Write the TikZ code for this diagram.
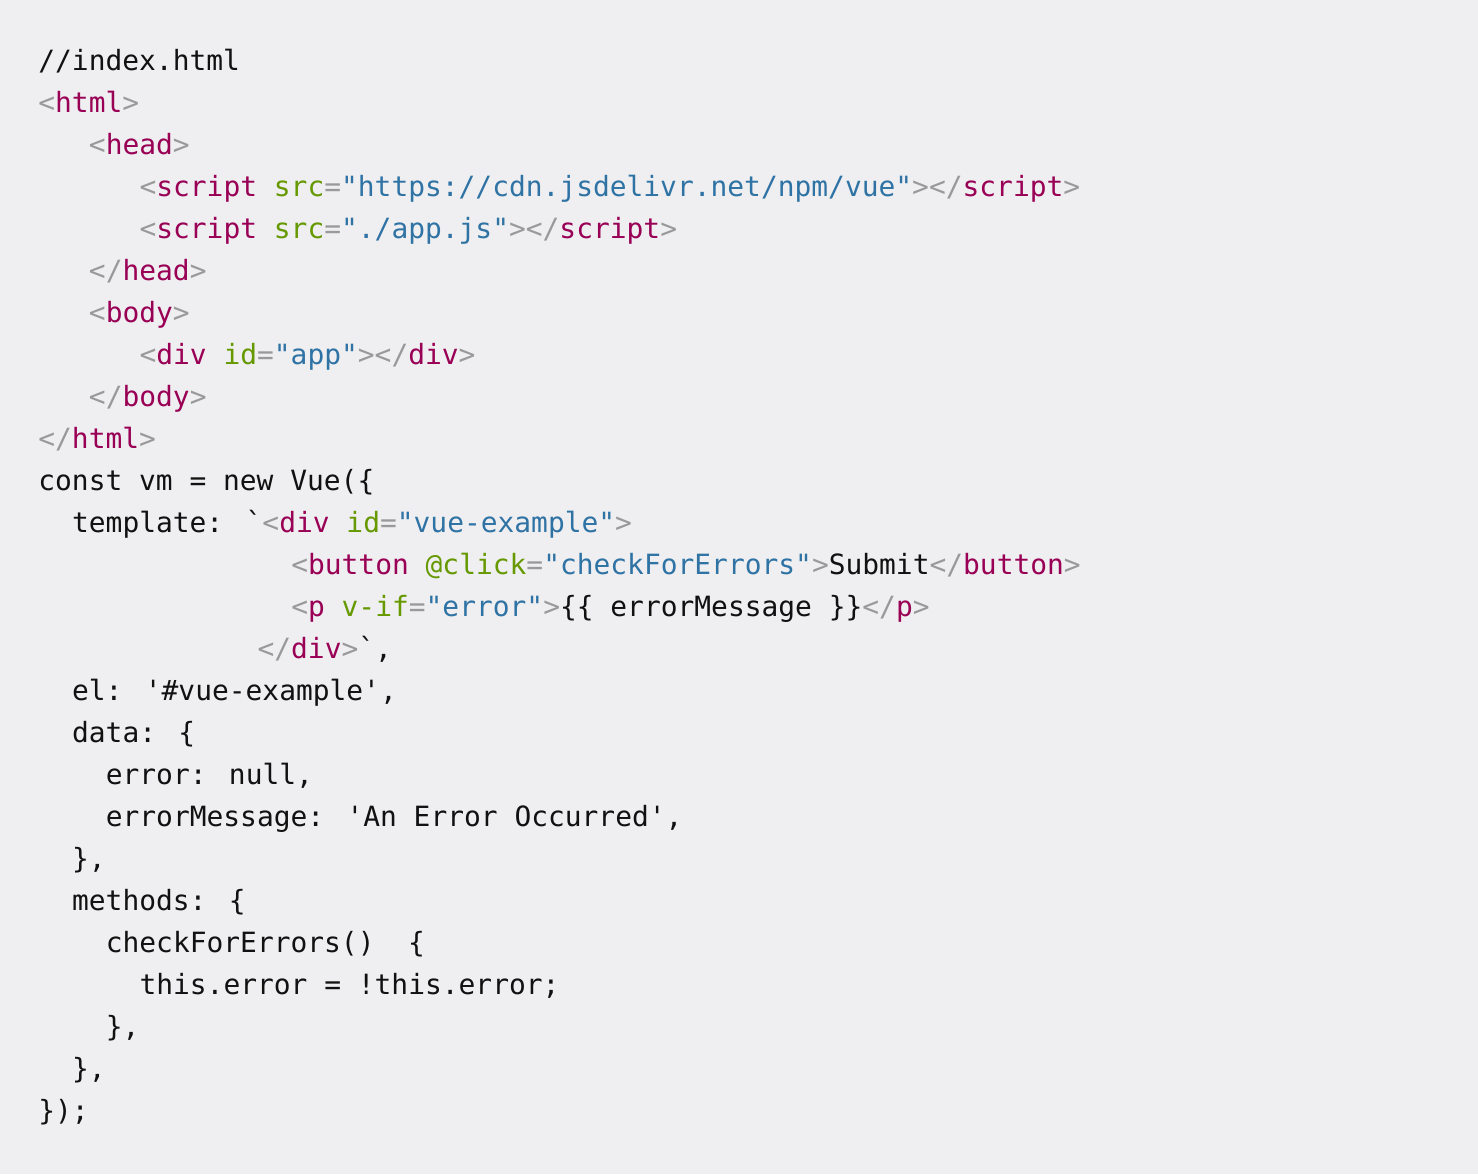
\documentclass[tikz,border=0pt]{standalone}
\usepackage{fontspec}
\newfontfamily\cf{DejaVu Sans Mono}
\definecolor{bg}{HTML}{EFEFF1}
\definecolor{tagc}{HTML}{990055}
\definecolor{pc}{HTML}{999999}
\definecolor{atc}{HTML}{669900}
\definecolor{stc}{HTML}{2F73A5}
\definecolor{txc}{HTML}{111111}
\newcommand\tg[1]{\textcolor{tagc}{#1}}
\newcommand\pg[1]{\textcolor{pc}{#1}}
\newcommand\at[1]{\textcolor{atc}{#1}}
\newcommand\st[1]{\textcolor{stc}{#1}}
\newcommand\bq{\symbol{96}}
\newcommand\sq{\symbol{39}}
\tikzset{codeline/.style={anchor=base west,inner sep=0pt,font=\cf\fontsize{13.95}{16}\selectfont,text=txc}}
\newcommand\codeln[3]{\node[codeline] (l#1) at ({19pt+#2*8.43pt},{-(35pt+21pt*#1)}) {#3};}
\begin{document}
\begin{tikzpicture}
\fill[bg] (0,0) rectangle (739pt,-587pt);
\useasboundingbox (0,0) rectangle (739pt,-587pt);
\codeln{0}{0}{//index.html}
\codeln{1}{0}{\pg{<}\tg{html}\pg{>}}
\codeln{2}{3}{\pg{<}\tg{head}\pg{>}}
\codeln{3}{6}{\pg{<}\tg{script} \at{src}\pg{=}\st{"https://cdn.jsdelivr.net/npm/vue"}\pg{></}\tg{script}\pg{>}}
\codeln{4}{6}{\pg{<}\tg{script} \at{src}\pg{=}\st{"./app.js"}\pg{></}\tg{script}\pg{>}}
\codeln{5}{3}{\pg{</}\tg{head}\pg{>}}
\codeln{6}{3}{\pg{<}\tg{body}\pg{>}}
\codeln{7}{6}{\pg{<}\tg{div} \at{id}\pg{=}\st{"app"}\pg{></}\tg{div}\pg{>}}
\codeln{8}{3}{\pg{</}\tg{body}\pg{>}}
\codeln{9}{0}{\pg{</}\tg{html}\pg{>}}
\codeln{10}{0}{const vm = new Vue(\{}
\codeln{11}{2}{template: \bq\pg{<}\tg{div} \at{id}\pg{=}\st{"vue-example"}\pg{>}}
\codeln{12}{15}{\pg{<}\tg{button} \at{@click}\pg{=}\st{"checkForErrors"}\pg{>}Submit\pg{</}\tg{button}\pg{>}}
\codeln{13}{15}{\pg{<}\tg{p} \at{v-if}\pg{=}\st{"error"}\pg{>}\{\{ errorMessage \}\}\pg{</}\tg{p}\pg{>}}
\codeln{14}{13}{\pg{</}\tg{div}\pg{>}\bq,}
\codeln{15}{2}{el: \sq\#vue-example\sq,}
\codeln{16}{2}{data: \{}
\codeln{17}{4}{error: null,}
\codeln{18}{4}{errorMessage: \sq An Error Occurred\sq,}
\codeln{19}{2}{\},}
\codeln{20}{2}{methods: \{}
\codeln{21}{4}{checkForErrors()\ \ \{}
\codeln{22}{6}{this.error = !this.error;}
\codeln{23}{4}{\},}
\codeln{24}{2}{\},}
\codeln{25}{0}{\});}
\end{tikzpicture}
\end{document}
